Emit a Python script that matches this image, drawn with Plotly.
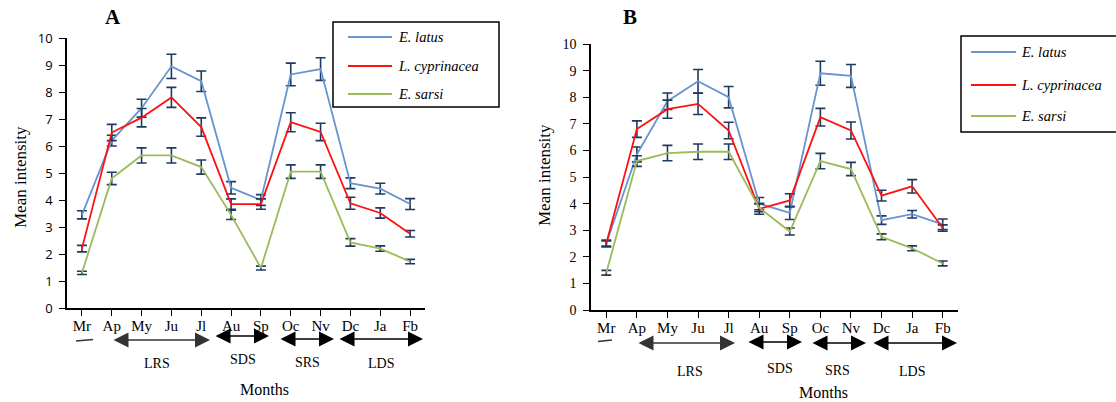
import plotly.graph_objects as go

W, H = 1116, 402

months = ["Mr", "Ap", "My", "Ju", "Jl", "Au", "Sp", "Oc", "Nv", "Dc", "Ja", "Fb"]
species = ["E. latus", "L. cyprinacea", "E. sarsi"]
colors = ["#6894d0", "#ff1010", "#9bbb59"]

# Panel A
A_latus = [3.45, 6.2, 7.4, 8.95, 8.4, 4.45, 4.0, 8.65, 8.85, 4.62, 4.42, 3.85]
A_latus_err = [0.15, 0.2, 0.33, 0.45, 0.38, 0.23, 0.2, 0.42, 0.42, 0.2, 0.2, 0.2]
A_cyp = [2.2, 6.5, 7.05, 7.8, 6.7, 3.85, 3.85, 6.88, 6.52, 3.88, 3.52, 2.75]
A_cyp_err = [0.12, 0.3, 0.34, 0.37, 0.34, 0.19, 0.19, 0.35, 0.32, 0.22, 0.19, 0.12]
A_sarsi = [1.3, 4.8, 5.65, 5.65, 5.22, 3.45, 1.48, 5.05, 5.05, 2.43, 2.2, 1.72]
A_sarsi_err = [0.06, 0.23, 0.28, 0.28, 0.26, 0.17, 0.07, 0.25, 0.25, 0.14, 0.1, 0.08]

# Panel B
B_latus = [2.5, 5.85, 7.85, 8.6, 8.0, 4.0, 3.65, 8.9, 8.8, 3.38, 3.6, 3.22]
B_latus_err = [0.13, 0.28, 0.31, 0.44, 0.4, 0.23, 0.25, 0.45, 0.43, 0.16, 0.14, 0.2]
B_cyp = [2.5, 6.8, 7.55, 7.75, 6.75, 3.8, 4.12, 7.25, 6.75, 4.3, 4.65, 3.08]
B_cyp_err = [0.1, 0.31, 0.34, 0.4, 0.31, 0.2, 0.25, 0.33, 0.32, 0.2, 0.25, 0.12]
B_sarsi = [1.4, 5.6, 5.9, 5.95, 5.95, 3.85, 2.95, 5.6, 5.3, 2.75, 2.32, 1.75]
B_sarsi_err = [0.09, 0.2, 0.29, 0.29, 0.29, 0.15, 0.13, 0.29, 0.25, 0.11, 0.09, 0.09]

seasons = ["LRS", "SDS", "SRS", "LDS"]

SERIF = "Liberation Serif"
ERRC = "#1f3a60"


def px(x):
    return x / W


def py(y):
    return 1 - y / H


fig = go.Figure()

panels = [
    ("x", "y", [A_latus, A_cyp, A_sarsi], [A_latus_err, A_cyp_err, A_sarsi_err]),
    ("x2", "y2", [B_latus, B_cyp, B_sarsi], [B_latus_err, B_cyp_err, B_sarsi_err]),
]
for xa, ya, vals, errs in panels:
    for name, col, v, e in zip(species, colors, vals, errs):
        fig.add_trace(go.Scatter(
            x=months, y=v, name=name, mode="lines",
            line=dict(color=col, width=1.8),
            error_y=dict(type="data", array=e, visible=True, color=ERRC,
                         thickness=1.6, width=5),
            xaxis=xa, yaxis=ya, showlegend=False,
        ))

axis_common = dict(showline=True, linecolor="black", linewidth=1.5,
                   ticks="outside", ticklen=6, tickwidth=1.2, tickcolor="black",
                   showgrid=False, zeroline=False, automargin=False)

fig.update_layout(
    width=W, height=H, autosize=False,
    margin=dict(l=0, r=0, t=0, b=0, pad=0, autoexpand=False),
    paper_bgcolor="white", plot_bgcolor="white",
    showlegend=False,
    xaxis=dict(domain=[px(67), px(425)], anchor="y", type="category",
               categoryorder="array", categoryarray=months, range=[-0.5, 11.5],
               tickfont=dict(family=SERIF, size=15, color="black"),
               ticklabelstandoff=-3, **axis_common),
    yaxis=dict(domain=[1 - 308 / H, 1 - 38 / H], anchor="x", range=[0, 10],
               dtick=1, tickfont=dict(family="Open Sans", size=13, color="black"),
               ticklabelstandoff=4, **axis_common),
    xaxis2=dict(domain=[px(591), px(958)], anchor="y2", type="category",
                categoryorder="array", categoryarray=months, range=[-0.5, 11.5],
                tickfont=dict(family=SERIF, size=15, color="black"),
                ticklabelstandoff=-3, **axis_common),
    yaxis2=dict(domain=[1 - 310 / H, 1 - 44 / H], anchor="x2", range=[0, 10],
                dtick=1, tickfont=dict(family=SERIF, size=14, color="black"),
                ticklabelstandoff=4, **axis_common),
)

ann = []
shapes = []


def text_ann(x, y, text, size, xanchor="center", angle=0):
    return dict(x=px(x), y=py(y), xref="paper", yref="paper", text=text,
                xanchor=xanchor, yanchor="middle", textangle=angle, showarrow=False,
                font=dict(family=SERIF, size=size, color="black"))


# panel letters
ann.append(text_ann(113, 17, "<b>A</b>", 21))
ann.append(text_ann(630, 17, "<b>B</b>", 21))

# y titles
ann.append(text_ann(20, 177, "Mean intensity", 17, angle=-90))
ann.append(text_ann(545, 175, "Mean intensity", 17, angle=-90))

# season arrows & labels
arrowsA = [(112, 210, 340), (214, 269, 336), (279, 334, 339), (338, 423, 339)]
labelsA = [(157, 363), (243, 359), (307, 362), (381, 363)]
arrowsB = [(637, 735, 343), (747, 802, 342), (811, 866, 343), (872, 957, 343)]
labelsB = [(690, 371), (780, 368), (837, 370), (912, 371)]
for arrows, labels in [(arrowsA, labelsA), (arrowsB, labelsB)]:
    for s, (x0, x1, yy), (lx, ly) in zip(seasons, arrows, labels):
        ann.append(dict(x=px(x1), y=py(yy), xref="paper", yref="paper",
                        ax=x0 - x1, ay=0, axref="pixel", ayref="pixel",
                        text="", showarrow=True, arrowside="end+start",
                        arrowhead=2, startarrowhead=2, arrowsize=2, startarrowsize=2,
                        arrowwidth=1.5, arrowcolor="black" if s != "LRS" else "#333"))
        ann.append(text_ann(lx, ly, s, 14))

# Months labels
ann.append(text_ann(264, 389, "Months", 16))
ann.append(text_ann(823, 392, "Months", 16))

# little strokes under Mr
for (x0, y0, x1, y1) in [(76, 341, 93, 339.5), (598, 341.5, 612, 340)]:
    shapes.append(dict(type="line", xref="paper", yref="paper",
                       x0=px(x0), y0=py(y0), x1=px(x1), y1=py(y1),
                       line=dict(color="#333", width=1.5)))

# legends (drawn manually)
legends = [
    dict(box=(333, 22, 499, 107), lx=(348, 392), tx=396, ys=[37, 66, 94]),
    dict(box=(961, 36, 1125, 132), lx=(971, 1016), tx=1019, ys=[52, 85, 116]),
]
for lg in legends:
    bx0, by0, bx1, by1 = lg["box"]
    shapes.append(dict(type="rect", xref="paper", yref="paper",
                       x0=px(bx0), y0=py(by0), x1=px(bx1), y1=py(by1),
                       line=dict(color="black", width=1.5), fillcolor="white", layer="above"))
    for name, col, yy in zip(species, colors, lg["ys"]):
        shapes.append(dict(type="line", xref="paper", yref="paper",
                           x0=px(lg["lx"][0]), x1=px(lg["lx"][1]), y0=py(yy), y1=py(yy),
                           line=dict(color=col, width=1.8), layer="above"))
        ann.append(text_ann(lg["tx"], yy, "<i>" + name + "</i>", 14.5, xanchor="left"))

fig.update_layout(annotations=ann, shapes=shapes)
fig.write_html(
    "out.html",
    config={"displayModeBar": False},
    post_script="document.body.style.margin='0';document.body.style.overflow='hidden';",
)
